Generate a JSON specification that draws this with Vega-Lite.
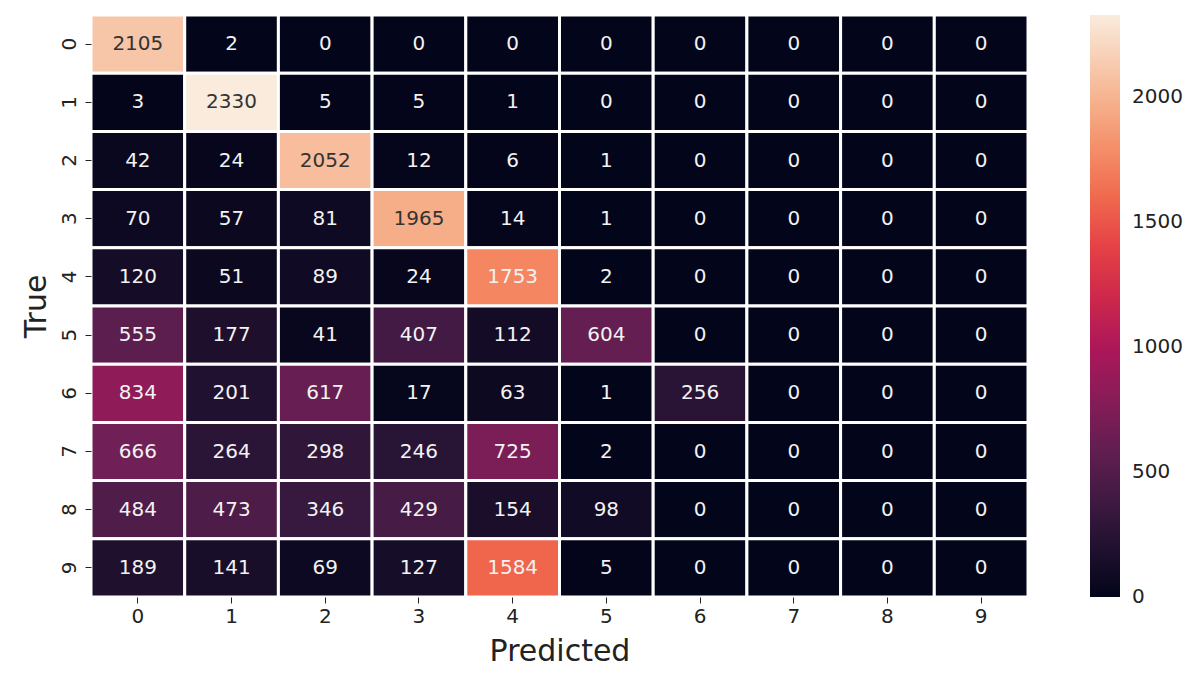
{
  "$schema": "https://vega.github.io/schema/vega-lite/v6.json",
  "width": 937,
  "height": 582,
  "autosize": {"type": "none"},
  "padding": {"left": 91, "top": 15, "right": 172, "bottom": 90},
  "background": "white",
  "config": {
    "font": "DejaVu Sans",
    "view": {"stroke": null},
    "axis": {
      "domain": false,
      "ticks": true,
      "tickColor": "#222",
      "tickSize": 6,
      "tickWidth": 1,
      "labelFont": "DejaVu Sans",
      "labelFontSize": 20,
      "labelColor": "#222",
      "titleFont": "DejaVu Sans",
      "titleFontSize": 30,
      "titleFontWeight": "normal",
      "titleColor": "#222",
      "grid": false
    }
  },
  "data": {
    "values": [
      {"t": "0", "p": "0", "v": 2105}, {"t": "0", "p": "1", "v": 2}, {"t": "0", "p": "2", "v": 0}, {"t": "0", "p": "3", "v": 0}, {"t": "0", "p": "4", "v": 0}, {"t": "0", "p": "5", "v": 0}, {"t": "0", "p": "6", "v": 0}, {"t": "0", "p": "7", "v": 0}, {"t": "0", "p": "8", "v": 0}, {"t": "0", "p": "9", "v": 0},
      {"t": "1", "p": "0", "v": 3}, {"t": "1", "p": "1", "v": 2330}, {"t": "1", "p": "2", "v": 5}, {"t": "1", "p": "3", "v": 5}, {"t": "1", "p": "4", "v": 1}, {"t": "1", "p": "5", "v": 0}, {"t": "1", "p": "6", "v": 0}, {"t": "1", "p": "7", "v": 0}, {"t": "1", "p": "8", "v": 0}, {"t": "1", "p": "9", "v": 0},
      {"t": "2", "p": "0", "v": 42}, {"t": "2", "p": "1", "v": 24}, {"t": "2", "p": "2", "v": 2052}, {"t": "2", "p": "3", "v": 12}, {"t": "2", "p": "4", "v": 6}, {"t": "2", "p": "5", "v": 1}, {"t": "2", "p": "6", "v": 0}, {"t": "2", "p": "7", "v": 0}, {"t": "2", "p": "8", "v": 0}, {"t": "2", "p": "9", "v": 0},
      {"t": "3", "p": "0", "v": 70}, {"t": "3", "p": "1", "v": 57}, {"t": "3", "p": "2", "v": 81}, {"t": "3", "p": "3", "v": 1965}, {"t": "3", "p": "4", "v": 14}, {"t": "3", "p": "5", "v": 1}, {"t": "3", "p": "6", "v": 0}, {"t": "3", "p": "7", "v": 0}, {"t": "3", "p": "8", "v": 0}, {"t": "3", "p": "9", "v": 0},
      {"t": "4", "p": "0", "v": 120}, {"t": "4", "p": "1", "v": 51}, {"t": "4", "p": "2", "v": 89}, {"t": "4", "p": "3", "v": 24}, {"t": "4", "p": "4", "v": 1753}, {"t": "4", "p": "5", "v": 2}, {"t": "4", "p": "6", "v": 0}, {"t": "4", "p": "7", "v": 0}, {"t": "4", "p": "8", "v": 0}, {"t": "4", "p": "9", "v": 0},
      {"t": "5", "p": "0", "v": 555}, {"t": "5", "p": "1", "v": 177}, {"t": "5", "p": "2", "v": 41}, {"t": "5", "p": "3", "v": 407}, {"t": "5", "p": "4", "v": 112}, {"t": "5", "p": "5", "v": 604}, {"t": "5", "p": "6", "v": 0}, {"t": "5", "p": "7", "v": 0}, {"t": "5", "p": "8", "v": 0}, {"t": "5", "p": "9", "v": 0},
      {"t": "6", "p": "0", "v": 834}, {"t": "6", "p": "1", "v": 201}, {"t": "6", "p": "2", "v": 617}, {"t": "6", "p": "3", "v": 17}, {"t": "6", "p": "4", "v": 63}, {"t": "6", "p": "5", "v": 1}, {"t": "6", "p": "6", "v": 256}, {"t": "6", "p": "7", "v": 0}, {"t": "6", "p": "8", "v": 0}, {"t": "6", "p": "9", "v": 0},
      {"t": "7", "p": "0", "v": 666}, {"t": "7", "p": "1", "v": 264}, {"t": "7", "p": "2", "v": 298}, {"t": "7", "p": "3", "v": 246}, {"t": "7", "p": "4", "v": 725}, {"t": "7", "p": "5", "v": 2}, {"t": "7", "p": "6", "v": 0}, {"t": "7", "p": "7", "v": 0}, {"t": "7", "p": "8", "v": 0}, {"t": "7", "p": "9", "v": 0},
      {"t": "8", "p": "0", "v": 484}, {"t": "8", "p": "1", "v": 473}, {"t": "8", "p": "2", "v": 346}, {"t": "8", "p": "3", "v": 429}, {"t": "8", "p": "4", "v": 154}, {"t": "8", "p": "5", "v": 98}, {"t": "8", "p": "6", "v": 0}, {"t": "8", "p": "7", "v": 0}, {"t": "8", "p": "8", "v": 0}, {"t": "8", "p": "9", "v": 0},
      {"t": "9", "p": "0", "v": 189}, {"t": "9", "p": "1", "v": 141}, {"t": "9", "p": "2", "v": 69}, {"t": "9", "p": "3", "v": 127}, {"t": "9", "p": "4", "v": 1584}, {"t": "9", "p": "5", "v": 5}, {"t": "9", "p": "6", "v": 0}, {"t": "9", "p": "7", "v": 0}, {"t": "9", "p": "8", "v": 0}, {"t": "9", "p": "9", "v": 0}
    ]
  },
  "encoding": {
    "x": {
      "field": "p", "type": "ordinal", "title": "Predicted",
      "scale": {"paddingInner": 0, "paddingOuter": 0},
      "axis": {"labelAngle": 0, "labelPadding": 3, "titlePadding": 10}
    },
    "y": {
      "field": "t", "type": "ordinal", "title": "True",
      "scale": {"paddingInner": 0, "paddingOuter": 0},
      "axis": {"labelAngle": -90, "labelPadding": 6, "titlePadding": 8}
    }
  },
  "layer": [
    {
      "mark": {"type": "rect", "stroke": "white", "strokeWidth": 3},
      "encoding": {
        "color": {
          "field": "v", "type": "quantitative",
          "scale": {
            "domain": [-0.5, 2330],
            "range": ["#03051a", "#35193e", "#701f57", "#ad1759", "#e13342", "#f37651", "#f6b48f", "#faebdd"],
            "interpolate": "rgb"
          },
          "legend": {
            "title": null,
            "direction": "vertical",
            "orient": "right",
            "offset": 62,
            "padding": 0,
            "gradientLength": 582,
            "gradientThickness": 30,
            "gradientStrokeWidth": 0,
            "values": [0, 500, 1000, 1500, 2000],
            "format": "d",
            "labelBaseline": "middle",
            "labelFontSize": 20,
            "labelFont": "DejaVu Sans",
            "labelColor": "#222",
            "labelOffset": 12
          }
        }
      }
    },
    {
      "mark": {"type": "text", "font": "DejaVu Sans", "fontSize": 20, "baseline": "middle", "align": "center"},
      "encoding": {
        "text": {"field": "v", "type": "quantitative", "format": "d"},
        "color": {
          "condition": {"test": "datum.v > 1850", "value": "#333333"},
          "value": "#f2f2f2"
        }
      }
    }
  ]
}
